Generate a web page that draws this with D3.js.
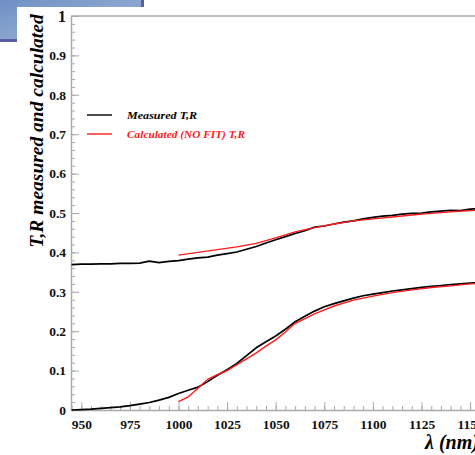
<!DOCTYPE html>
<html>
<head>
<meta charset="utf-8">
<script src="https://cdn.jsdelivr.net/npm/d3@7"></script>
<style>
  body { margin: 0; background: #fff; }
  svg { display: block; }
</style>
</head>
<body>
<div id="main"></div>
<script>
const ctx = { w: 475, h: 455 };
const margin = { top: 16, left: 71, bottom: 410 };

// wavelengths (nm) of the measured spectra
const wlMeas = [945, 950, 955, 960, 965, 970, 975, 980, 985, 990, 995, 1000, 1005, 1010, 1015, 1020,
    1025, 1030, 1035, 1040, 1045, 1050, 1055, 1060, 1065, 1070, 1075, 1080, 1085, 1090, 1095, 1100,
    1105, 1110, 1115, 1120, 1125, 1130, 1135, 1140, 1145, 1150, 1155, 1160];
// measured R (upper curve)
const rMeas = [0.369, 0.370, 0.370, 0.371, 0.371, 0.372, 0.372, 0.373, 0.378, 0.374, 0.377, 0.379, 0.383, 0.386, 0.388, 0.393,
    0.397, 0.401, 0.408, 0.415, 0.424, 0.432, 0.440, 0.448, 0.455, 0.464, 0.467, 0.472, 0.477, 0.480, 0.485, 0.489,
    0.492, 0.494, 0.497, 0.499, 0.500, 0.503, 0.505, 0.507, 0.506, 0.510, 0.511, 0.512];
// measured T (lower curve)
const tMeas = [0.000, 0.001, 0.002, 0.004, 0.006, 0.008, 0.011, 0.015, 0.019, 0.025, 0.032, 0.042, 0.050, 0.058, 0.072, 0.088,
    0.102, 0.118, 0.138, 0.158, 0.173, 0.188, 0.205, 0.224, 0.238, 0.251, 0.262, 0.270, 0.277, 0.284, 0.290, 0.294,
    0.298, 0.302, 0.305, 0.308, 0.311, 0.314, 0.316, 0.318, 0.320, 0.322, 0.323, 0.325];

// calculated (no fit)
const wlCalcR = [1000, 1010, 1020, 1030, 1040, 1050, 1060, 1070, 1080, 1090, 1100, 1110, 1120, 1130, 1140, 1150, 1160];
const rCalc = [0.393, 0.400, 0.407, 0.414, 0.423, 0.437, 0.452, 0.463, 0.472, 0.480, 0.485, 0.490, 0.495, 0.499, 0.503, 0.506, 0.509];
const wlCalcT = [1000, 1005, 1010, 1015, 1020, 1025, 1030, 1035, 1040, 1045, 1050, 1055, 1060, 1065, 1070, 1080, 1090, 1100,
    1110, 1120, 1130, 1140, 1150, 1160];
const tCalc = [0.021, 0.033, 0.055, 0.078, 0.090, 0.100, 0.115, 0.130, 0.145, 0.162, 0.178, 0.198, 0.220, 0.232, 0.244, 0.264,
    0.279, 0.289, 0.298, 0.305, 0.311, 0.315, 0.320, 0.323];

const xMajor = [950, 975, 1000, 1025, 1050, 1075, 1100, 1125, 1150];
const yMajor = [0, 0.1, 0.2, 0.3, 0.4, 0.5, 0.6, 0.7, 0.8, 0.9, 1];

const legendItems = [
    { label: "Measured T,R", color: "#000", len: 70 },
    { label: "Calculated (NO FIT) T,R", color: "#ff1a1a", len: 118 }
];

const serif = "'Liberation Serif', 'DejaVu Serif', serif";

const svg = d3.select("#main").append("svg")
    .attr("width", ctx.w)
    .attr("height", ctx.h);

// slide decoration in the top-left corner
const defs = svg.append("defs");
const grad = defs.append("linearGradient").attr("id", "blueGrad")
    .attr("x1", "0").attr("y1", "0").attr("x2", "1").attr("y2", "1");
grad.append("stop").attr("offset", "0%").attr("stop-color", "#6f8fc4");
grad.append("stop").attr("offset", "50%").attr("stop-color", "#8aa6cf");
grad.append("stop").attr("offset", "100%").attr("stop-color", "#7391c0");
svg.append("rect").attr("x", 0).attr("y", 0).attr("width", 144).attr("height", 42).attr("fill", "url(#blueGrad)");
svg.append("rect").attr("x", 0).attr("y", 39).attr("width", 144).attr("height", 3).attr("fill", "#5d5aa6");
svg.append("rect").attr("x", 141).attr("y", 0).attr("width", 3).attr("height", 42).attr("fill", "#5d5aa6");
svg.append("rect").attr("x", 17).attr("y", 7).attr("width", ctx.w).attr("height", ctx.h).attr("fill", "#fff");

const x = d3.scaleLinear().domain([944.7, 1160]).range([margin.left, margin.left + 215.3 * 1.944]);
const y = d3.scaleLinear().domain([0, 1]).range([margin.bottom, margin.top]);

const g = svg.append("g");

// frame top line
g.append("line")
    .attr("x1", margin.left).attr("x2", ctx.w)
    .attr("y1", margin.top).attr("y2", margin.top)
    .attr("stroke", "#aaa").attr("stroke-width", 1.5);

// minor ticks
g.append("g")
    .attr("transform", `translate(0,${margin.bottom})`)
    .call(d3.axisBottom(x).tickValues(d3.range(945, 1161, 5)).tickSize(-4).tickFormat(""))
    .call(a => a.select(".domain").remove());
g.append("g")
    .attr("transform", `translate(${margin.left},0)`)
    .call(d3.axisLeft(y).tickValues(d3.range(0, 51).map(i => i / 50)).tickSize(-4).tickFormat(""))
    .call(a => a.select(".domain").remove());

// major ticks + labels
const xAxis = g.append("g")
    .attr("transform", `translate(0,${margin.bottom})`)
    .call(d3.axisBottom(x).tickValues(xMajor).tickSize(-8).tickSizeOuter(0).tickPadding(9).tickFormat(d3.format("d")));
const yAxis = g.append("g")
    .attr("transform", `translate(${margin.left},0)`)
    .call(d3.axisLeft(y).tickValues(yMajor).tickSize(-8).tickSizeOuter(0).tickPadding(5).tickFormat(d => d === 0 ? "0" : d === 1 ? "1" : d3.format(".1f")(d)));

svg.selectAll(".tick line").attr("stroke", "#aaa");
svg.selectAll(".domain").attr("stroke", "#aaa").attr("stroke-width", 1.5);
svg.selectAll(".tick text")
    .attr("fill", "#111")
    .style("font-family", serif)
    .style("font-weight", "bold")
    .style("font-size", "13.5px");
yAxis.selectAll(".tick text").filter(d => d === 1).style("font-size", "16px");

// axis titles
svg.append("text")
    .attr("transform", "translate(43,131) rotate(-90)")
    .attr("text-anchor", "middle")
    .style("font-family", serif)
    .style("font-weight", "bold")
    .style("font-style", "italic")
    .style("font-size", "19.5px")
    .text("T,R measured and calculated");

svg.append("text")
    .attr("x", 425).attr("y", 449)
    .style("font-family", serif)
    .style("font-weight", "bold")
    .style("font-style", "italic")
    .style("font-size", "20px")
    .text("λ (nm)");

// curves
const line = d3.line().x(d => x(d[0])).y(d => y(d[1]));
const curves = [
    { wl: wlMeas, v: rMeas, color: "#000", w: 1.7 },
    { wl: wlMeas, v: tMeas, color: "#000", w: 1.7 },
    { wl: wlCalcR, v: rCalc, color: "#ff1a1a", w: 1.4 },
    { wl: wlCalcT, v: tCalc, color: "#ff1a1a", w: 1.4 }
];
const plotG = svg.append("g");
curves.forEach(c => {
    plotG.append("path")
        .datum(c.wl.map((w, i) => [w, c.v[i]]))
        .attr("fill", "none")
        .attr("stroke", c.color)
        .attr("stroke-width", c.w)
        .attr("d", line);
});

// legend
const leg = svg.append("g").attr("transform", "translate(87,115)");
legendItems.forEach((d, i) => {
    const row = leg.append("g").attr("transform", `translate(0,${i * 19})`);
    row.append("line").attr("x1", 0).attr("x2", 25).attr("y1", 0).attr("y2", 0)
        .attr("stroke", d.color).attr("stroke-width", 1.4);
    row.append("text")
        .attr("x", 40).attr("y", 4)
        .attr("fill", d.color)
        .attr("textLength", d.len)
        .attr("lengthAdjust", "spacingAndGlyphs")
        .style("font-family", serif)
        .style("font-weight", "bold")
        .style("font-style", "italic")
        .style("font-size", "11px")
        .text(d.label);
});
</script>
</body>
</html>
